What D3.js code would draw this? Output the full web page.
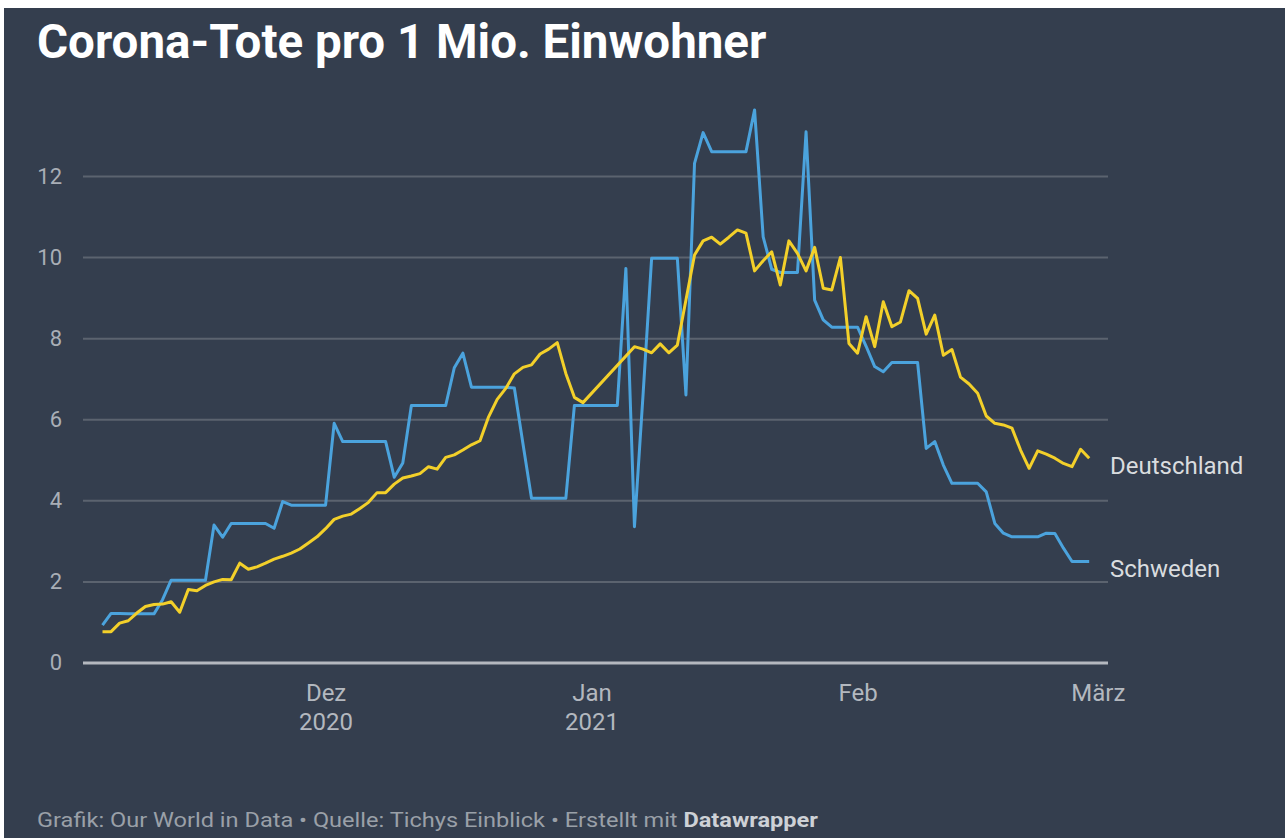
<!DOCTYPE html>
<html>
<head>
<meta charset="utf-8">
<script src="https://cdn.jsdelivr.net/npm/d3@7"></script>
<style>
  body { margin: 0; background: #fff; }
  svg { display: block; font-family: Roboto, "Noto Sans", sans-serif; }
</style>
</head>
<body>
<div id="chart"></div>
<script>
let svgWidth = 1285;
let svgHeight = 838;

// Daily values, 5 Nov 2020 .. 28 Feb 2021 (null = no value that day)
let startDate = "2020-11-05";

let deutschland = [
  0.76, 0.76, 0.97, 1.03, 1.22, 1.38, 1.43, 1.44, 1.5, 1.24,
  1.8, 1.77, 1.9, 1.99, 2.05, 2.04, 2.45, 2.3, 2.36, 2.45,
  2.55, 2.62, 2.7, 2.8, 2.95, 3.1, 3.3, 3.53, 3.61, 3.66,
  3.8, 3.95, 4.19, 4.19, 4.4, 4.55, 4.6, 4.66, 4.83, 4.77,
  5.06, 5.12, 5.24, 5.37, 5.47, 6.06, 6.49, 6.76, 7.12, 7.28,
  7.34, 7.61, 7.73, 7.89, 7.13, 6.54, 6.41, null, null, null,
  null, null, 7.79, 7.73, 7.64, 7.86, 7.64, 7.83, 8.94, 10.05,
  10.4, 10.49, 10.32, 10.49, 10.67, 10.59, 9.66, 9.91, 10.13, 9.31,
  10.4, 10.09, 9.66, 10.24, 9.23, 9.19, 9.99, 7.87, 7.63, 8.53,
  7.79, 8.9, 8.28, 8.4, 9.17, 8.98, 8.1, 8.57, 7.58, 7.72,
  7.04, 6.87, 6.64, 6.08, 5.9, 5.86, 5.78, 5.24, 4.79, 5.22,
  5.14, 5.04, 4.91, 4.83, 5.26, 5.04
];

let schweden = [
  0.92, 1.21, 1.21, 1.2, 1.2, 1.2, 1.2, 1.55, 2.03, 2.03,
  2.03, 2.03, 2.03, 3.39, 3.09, 3.43, 3.43, 3.43, 3.43, 3.43,
  3.31, 3.97, 3.88, 3.88, 3.88, 3.88, 3.88, 5.9, 5.45, 5.45,
  5.45, 5.45, 5.45, 5.45, 4.57, 4.92, 6.34, 6.34, 6.34, 6.34,
  6.34, 7.27, 7.63, 6.79, 6.79, 6.79, 6.79, 6.79, 6.77, 5.4,
  4.05, 4.05, 4.05, 4.05, 4.05, 6.34, 6.34, 6.34, 6.34, 6.34,
  6.34, 9.72, 3.35, 6.6, 9.97, 9.97, 9.97, 9.97, 6.6, 12.31,
  13.07, 12.6, 12.6, 12.6, 12.6, 12.6, 13.63, 10.5, 9.7, 9.62,
  9.62, 9.62, 13.09, 8.94, 8.45, 8.27, 8.27, 8.27, 8.27, 7.8,
  7.3, 7.17, 7.4, 7.4, 7.4, 7.4, 5.28, 5.45, 4.87, 4.42,
  4.42, 4.42, 4.42, 4.21, 3.43, 3.19, 3.1, 3.1, 3.1, 3.1,
  3.19, 3.18, 2.82, 2.49, 2.49, 2.49
];

let seriesNames = ["Schweden", "Deutschland"];
let seriesColors = ["#4ba3dd", "#f3d02a"];

let monthTicks = ["2020-12-01", "2021-01-01", "2021-02-01", "2021-03-01"];
let monthLabels = [["Dez", "2020"], ["Jan", "2021"], ["Feb"], ["März"]];
let yTicks = [0, 2, 4, 6, 8, 10, 12];

let titleText = "Corona-Tote pro 1 Mio. Einwohner";
let footerText = "Grafik: Our World in Data • Quelle: Tichys Einblick • Erstellt mit ";
let footerBrand = "Datawrapper";

// ---------------------------------------------------------------
let parseDate = d3.timeParse("%Y-%m-%d");
let start = parseDate(startDate);
let dates = deutschland.map((d, i) => d3.timeDay.offset(start, i));

let series = [schweden, deutschland].map((vals, k) => ({
  name: seriesNames[k],
  color: seriesColors[k],
  points: vals.map((v, i) => ({ date: dates[i], value: v })).filter(p => p.value !== null)
}));

let svg = d3.select("#chart").append("svg")
  .attr("width", svgWidth).attr("height", svgHeight);

svg.append("rect")
  .attr("x", 4).attr("y", 8)
  .attr("width", svgWidth - 4).attr("height", svgHeight - 8)
  .attr("fill", "#343e4e");

let plotLeft = 83, plotRight = 1108;

let x = d3.scaleTime()
  .domain([start, dates[dates.length - 1]])
  .range([102.5, 1089.2]);

let y = d3.scaleLinear()
  .domain([0, 12])
  .range([662.5, 176]);

// grid + y labels
let yAxis = svg.append("g")
  .attr("transform", `translate(${plotLeft},0)`)
  .call(d3.axisLeft(y).tickValues(yTicks).tickSize(-(plotRight - plotLeft)).tickPadding(21));

yAxis.select(".domain").remove();
yAxis.selectAll(".tick line")
  .attr("stroke", d => d === 0 ? "#b4b8bf" : "#5b636f")
  .attr("stroke-width", d => d === 0 ? 3 : 2);
yAxis.selectAll(".tick text")
  .attr("fill", "#a9aeb6")
  .style("font-size", "22px")
  .style("font-family", "Roboto, sans-serif");

// x labels
let xAxis = svg.append("g")
  .attr("transform", `translate(0,${y(0)})`)
  .call(d3.axisBottom(x).tickValues(monthTicks.map(parseDate)).tickSize(0).tickFormat(""));

xAxis.select(".domain").remove();
xAxis.selectAll(".tick").each(function (d, i) {
  let t = d3.select(this).append("text")
    .attr("fill", "#b3b8bf")
    .attr("text-anchor", "middle")
    .style("font-size", "24px")
    .style("font-family", "Roboto, sans-serif");
  monthLabels[i].forEach((line, j) => {
    t.append("tspan").attr("x", 0).attr("y", 38 + j * 29).text(line);
  });
});

// lines
let line = d3.line()
  .x(d => x(d.date))
  .y(d => y(d.value));

svg.append("g").selectAll("path")
  .data(series)
  .join("path")
  .attr("d", d => line(d.points))
  .attr("fill", "none")
  .attr("stroke", d => d.color)
  .attr("stroke-width", 3)
  .attr("stroke-linejoin", "round");

// line labels
svg.append("g").selectAll("text")
  .data(series)
  .join("text")
  .attr("x", 1110)
  .attr("y", d => y(d.points[d.points.length - 1].value) + 9)
  .attr("dominant-baseline", "middle")
  .attr("fill", "#d9dcdf")
  .style("font-size", "24px")
  .text(d => d.name);

// title
svg.append("text")
  .attr("x", 37).attr("y", 58)
  .attr("fill", "#ffffff")
  .style("font-size", "47.5px")
  .style("font-weight", "700")
  .text(titleText);

// footer, spread to the width of the original credit line
let foot = svg.append("text")
  .attr("x", 37).attr("y", 827)
  .attr("fill", "#9aa0a8")
  .attr("textLength", 781)
  .attr("lengthAdjust", "spacingAndGlyphs")
  .style("font-size", "21px");
foot.append("tspan").text(footerText);
foot.append("tspan").attr("fill", "#cdd1d6").style("font-weight", "700").text(footerBrand);
</script>
</body>
</html>
